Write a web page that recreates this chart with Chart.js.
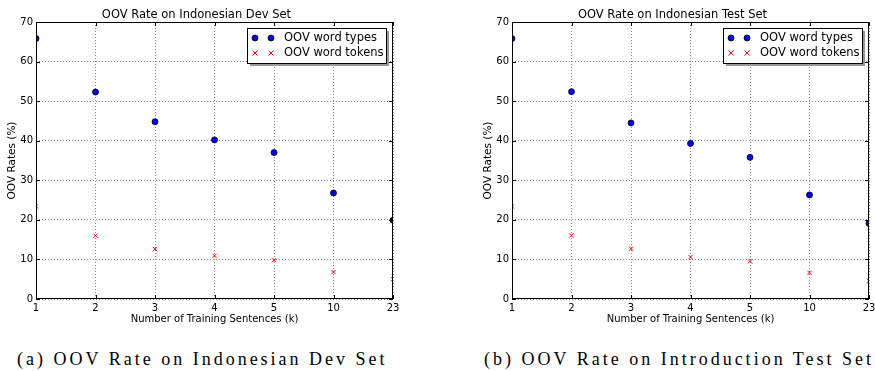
<!DOCTYPE html>
<html>
<head>
  <title>OOV Rates</title>
  <script src="https://cdn.jsdelivr.net/npm/chart.js"></script>
  <style>
    body { margin:0; background:#fff; width:875px; height:371px; position:relative; overflow:hidden; }
    .box { position:absolute; top:0; width:437px; height:325px; }
    .cap { position:absolute; top:349px; font-family:"Liberation Serif", serif; font-size:18px; letter-spacing:3px; color:#000; white-space:nowrap; }
  </style>
</head>
<body>
  <div class="box" style="left:0"><canvas id="devChart"></canvas></div>
  <div class="box" style="left:476px"><canvas id="testChart"></canvas></div>
  <div class="cap" style="left:17px">(a) OOV Rate on Indonesian Dev Set</div>
  <div class="cap" style="left:484px">(b) OOV Rate on Introduction Test Set</div>

<script>
  // training sizes (k sentences), plotted evenly spaced
  const sizes = ['1', '2', '3', '4', '5', '10', '23'];
  const yTicks = [0, 10, 20, 30, 40, 50, 60, 70];

  const devTypes  = [65.8, 52.3, 44.8, 40.2, 37.0, 26.8, 19.9];
  const devTokens = [23.4, 16.0, 12.6, 10.9, 9.8, 6.8, 5.0];
  const testTypes  = [65.8, 52.4, 44.5, 39.3, 35.8, 26.3, 19.1];
  const testTokens = [23.4, 16.1, 12.7, 10.6, 9.5, 6.6, 4.6];

  Chart.defaults.font.family = 'DejaVu Sans';
  Chart.defaults.color = '#000';

  function toPoints(vals) {
    return vals.map((v, i) => ({ x: i, y: v }));
  }

  // frame + inward ticks + legend, matplotlib style
  const mplDecor = {
    id: 'mplDecor',
    afterDatasetsDraw(chart) {
      const ctx = chart.ctx, a = chart.chartArea;
      ctx.save();
      ctx.strokeStyle = '#000';
      ctx.lineWidth = 1;
      ctx.strokeRect(a.left + 0.5, a.top + 0.5, a.right - a.left - 1, a.bottom - a.top - 1);
      // inward ticks
      const xs = chart.scales.x, ys = chart.scales.y;
      ctx.beginPath();
      sizes.forEach((s, i) => {
        const px = Math.round(xs.getPixelForValue(i)) + 0.5;
        ctx.moveTo(px, a.bottom); ctx.lineTo(px, a.bottom - 4);
        ctx.moveTo(px, a.top); ctx.lineTo(px, a.top + 4);
      });
      yTicks.forEach(v => {
        const py = Math.round(ys.getPixelForValue(v)) + 0.5;
        ctx.moveTo(a.left, py); ctx.lineTo(a.left + 4, py);
        ctx.moveTo(a.right, py); ctx.lineTo(a.right - 4, py);
      });
      ctx.stroke();

      // legend box
      const bx = a.right - 146, by = a.top + 6, bw = 139, bh = 35;
      ctx.fillStyle = '#999';
      ctx.fillRect(bx + 3, by + 3, bw, bh);
      ctx.fillStyle = '#fff';
      ctx.fillRect(bx, by, bw, bh);
      ctx.strokeRect(bx + 0.5, by + 0.5, bw, bh);
      ctx.font = '11.5px "DejaVu Sans"';
      ctx.textBaseline = 'middle';
      chart.data.datasets.forEach((ds, k) => {
        const cy = by + 10 + k * 15;
        [bx + 8, bx + 24].forEach(mx => {
          if (ds.pointStyle === 'circle') {
            ctx.beginPath();
            ctx.arc(mx, cy, 3, 0, Math.PI * 2);
            ctx.fillStyle = ds.backgroundColor;
            ctx.fill();
            ctx.strokeStyle = '#000';
            ctx.lineWidth = 0.8;
            ctx.stroke();
          } else {
            ctx.beginPath();
            ctx.moveTo(mx - 2.5, cy - 2.5); ctx.lineTo(mx + 2.5, cy + 2.5);
            ctx.moveTo(mx - 2.5, cy + 2.5); ctx.lineTo(mx + 2.5, cy - 2.5);
            ctx.strokeStyle = ds.borderColor;
            ctx.lineWidth = 1;
            ctx.stroke();
          }
        });
        ctx.fillStyle = '#000';
        ctx.fillText(ds.label, bx + 37, cy + 0.5);
      });
      ctx.restore();
    }
  };

  function makeChart(id, title, types, tokens) {
    new Chart(document.getElementById(id), {
      type: 'scatter',
      data: {
        datasets: [
          {
            label: 'OOV word types',
            data: toPoints(types),
            pointStyle: 'circle',
            pointRadius: 3,
            backgroundColor: '#0000ff',
            borderColor: '#000',
            borderWidth: 0.8,
            clip: 0
          },
          {
            label: 'OOV word tokens',
            data: toPoints(tokens),
            pointStyle: 'crossRot',
            pointRadius: 3,
            backgroundColor: '#ff0000',
            borderColor: '#ff0000',
            borderWidth: 1,
            clip: 0
          }
        ]
      },
      options: {
        responsive: true,
        maintainAspectRatio: false,
        animation: false,
        layout: { padding: { left: 0, right: 44, top: 0, bottom: 0 } },
        plugins: {
          legend: { display: false },
          tooltip: { enabled: false },
          title: {
            display: true,
            text: title,
            font: { size: 11.5, weight: 'normal', lineHeight: 1 },
            padding: { top: 9, bottom: 1.5 }
          }
        },
        scales: {
          x: {
            type: 'linear',
            min: 0,
            max: 6,
            afterBuildTicks: s => { s.ticks = sizes.map((_, i) => ({ value: i })); },
            afterFit: s => { s.height = 26; },
            ticks: {
              callback: v => sizes[v],
              font: { size: 10 },
              padding: 3,
              maxRotation: 0
            },
            grid: { color: '#555', lineWidth: 0.7, tickLength: 0, drawTicks: false },
            border: { display: false, dash: [1, 2] },
            title: { display: true, text: 'Number of Training Sentences (k)', font: { size: 10 }, padding: { top: 0, bottom: 0 } }
          },
          y: {
            min: 0,
            max: 70,
            afterBuildTicks: s => { s.ticks = yTicks.map(v => ({ value: v })); },
            afterFit: s => { s.width = 36; },
            ticks: { font: { size: 10 }, padding: 3 },
            grid: { color: '#555', lineWidth: 0.7, drawTicks: false },
            border: { display: false, dash: [1, 2] },
            title: { display: true, text: 'OOV Rates (%)', font: { size: 10.5 }, padding: { top: 6, bottom: 0 } }
          }
        }
      },
      plugins: [mplDecor]
    });
  }

  makeChart('devChart', 'OOV Rate on Indonesian Dev Set', devTypes, devTokens);
  makeChart('testChart', 'OOV Rate on Indonesian Test Set', testTypes, testTokens);
</script>
</body>
</html>
